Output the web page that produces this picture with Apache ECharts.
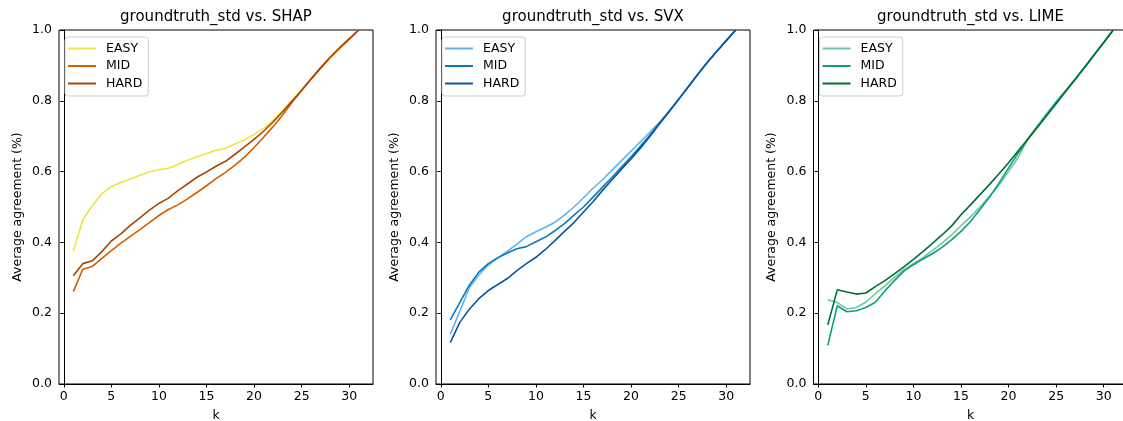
<!DOCTYPE html>
<html>
<head>
<meta charset="utf-8">
<script src="https://cdn.jsdelivr.net/npm/echarts@6/dist/echarts.min.js"></script>
<style>
  html, body { margin: 0; padding: 0; background: #fff; }
  #chart { width: 1123px; height: 421px; }
</style>
</head>
<body>
<div id="chart"></div>
<script>
// k = 1..31
const K = [1,2,3,4,5,6,7,8,9,10,11,12,13,14,15,16,17,18,19,20,21,22,23,24,25,26,27,28,29,30,31];
const xTicks = [0, 5, 10, 15, 20, 25, 30];
const levels = ['EASY', 'MID', 'HARD'];
const methods = ['SHAP', 'SVX', 'LIME'];

// Average agreement per k, groundtruth_std vs. SHAP
const shapEasy = [0.375,0.464,0.504,0.537,0.558,0.569,0.579,0.590,0.599,0.606,0.609,0.621,0.632,0.642,0.651,0.660,0.666,0.678,0.690,0.705,0.722,0.745,0.772,0.802,0.831,0.860,0.891,0.920,0.946,0.972,1.0];
const shapMid  = [0.261,0.324,0.332,0.355,0.377,0.398,0.417,0.436,0.456,0.476,0.493,0.506,0.523,0.541,0.560,0.580,0.598,0.618,0.641,0.668,0.697,0.727,0.760,0.796,0.829,0.862,0.893,0.923,0.950,0.975,1.0];
const shapHard = [0.306,0.340,0.348,0.374,0.404,0.424,0.448,0.469,0.491,0.510,0.525,0.546,0.565,0.584,0.599,0.615,0.629,0.649,0.670,0.691,0.714,0.740,0.769,0.799,0.830,0.862,0.893,0.923,0.950,0.975,1.0];

// groundtruth_std vs. SVX
const svxEasy = [0.141,0.205,0.272,0.308,0.336,0.356,0.375,0.395,0.416,0.430,0.443,0.457,0.477,0.500,0.526,0.553,0.577,0.604,0.631,0.658,0.685,0.712,0.740,0.771,0.805,0.839,0.874,0.908,0.939,0.970,1.0];
const svxMid  = [0.181,0.230,0.279,0.316,0.340,0.357,0.370,0.382,0.388,0.402,0.415,0.433,0.453,0.477,0.500,0.528,0.556,0.584,0.613,0.642,0.672,0.704,0.737,0.770,0.804,0.839,0.874,0.908,0.939,0.970,1.0];
const svxHard = [0.117,0.174,0.211,0.241,0.264,0.281,0.298,0.320,0.340,0.358,0.380,0.405,0.431,0.456,0.486,0.515,0.547,0.577,0.607,0.636,0.667,0.700,0.735,0.769,0.804,0.839,0.874,0.908,0.939,0.970,1.0];

// groundtruth_std vs. LIME
const limeEasy = [0.238,0.230,0.212,0.216,0.231,0.255,0.277,0.301,0.323,0.340,0.357,0.377,0.398,0.421,0.447,0.472,0.500,0.530,0.562,0.600,0.640,0.692,0.728,0.764,0.798,0.830,0.862,0.895,0.930,0.965,1.0];
const limeMid  = [0.109,0.221,0.204,0.207,0.216,0.231,0.263,0.292,0.319,0.337,0.353,0.368,0.386,0.407,0.431,0.459,0.493,0.528,0.568,0.610,0.652,0.690,0.726,0.760,0.795,0.828,0.861,0.895,0.930,0.965,1.0];
const limeHard = [0.167,0.266,0.260,0.254,0.257,0.275,0.292,0.311,0.331,0.352,0.374,0.397,0.421,0.446,0.478,0.506,0.535,0.564,0.594,0.625,0.658,0.691,0.724,0.758,0.792,0.826,0.860,0.895,0.930,0.965,1.0];

const panelValues = [
  [shapEasy, shapMid, shapHard],
  [svxEasy, svxMid, svxHard],
  [limeEasy, limeMid, limeHard]
];
const panelColors = [
  ['#f0e442', '#d55e00', '#a3480a'],
  ['#62b2f0', '#0a7ac0', '#0a55a0'],
  ['#6cc7a2', '#0fa07a', '#00702f']
];

const FONT = 'DejaVu Sans';
const gridLefts = [59, 436, 813.5];
const gridTop = 30, gridW = 314, gridH = 354;

const grids = [], xAxes = [], yAxes = [], series = [], legends = [], texts = [];

methods.forEach((m, i) => {
  const left = gridLefts[i];
  grids.push({ left: left, top: gridTop, width: gridW, height: gridH,
    outerBoundsMode: 'none', containLabel: false,
    show: true, borderColor: '#000', borderWidth: 1, backgroundColor: '#fff' });
  xAxes.push({
    gridIndex: i, type: 'value', min: -0.5, max: 32.5,
    name: 'k', nameLocation: 'middle', nameGap: 25,
    nameTextStyle: { fontFamily: FONT, fontSize: 12.5, color: '#000' },
    axisLine: { show: true, lineStyle: { color: '#000', width: 1 } },
    axisTick: { show: true, length: 3.5, lineStyle: { color: '#000', width: 1 }, customValues: xTicks },
    axisLabel: { show: true, margin: 6, fontFamily: FONT, fontSize: 12.5, color: '#000', customValues: xTicks },
    splitLine: { show: false }
  });
  yAxes.push({
    gridIndex: i, type: 'value', min: 0, max: 1, interval: 0.2,
    name: 'Average agreement (%)', nameLocation: 'middle', nameGap: 35,
    nameTextStyle: { fontFamily: FONT, fontSize: 12.5, color: '#000' },
    axisLine: { show: true, lineStyle: { color: '#000', width: 1 } },
    axisTick: { show: true, length: 3.5, lineStyle: { color: '#000', width: 1 } },
    axisLabel: { margin: 7, fontFamily: FONT, fontSize: 12.5, color: '#000',
      formatter: v => v.toFixed(1) },
    splitLine: { show: false }
  });
  const names = [];
  levels.forEach((lv, j) => {
    const name = m + ' ' + lv;
    names.push(name);
    series.push({
      name: name, type: 'line', xAxisIndex: i, yAxisIndex: i,
      data: K.map((k, idx) => [k, panelValues[i][j][idx]]),
      symbol: 'none', smooth: false, clip: true,
      lineStyle: { color: panelColors[i][j], width: 1.6 },
      itemStyle: { color: panelColors[i][j] },
      z: 2 + j
    });
  });
  legends.push({
    data: names, left: left + 6, top: 37, orient: 'vertical',
    icon: 'rect', itemWidth: 28, itemHeight: 2, itemGap: 4.5,
    padding: [5, 6, 6, 3],
    borderColor: '#cccccc', borderWidth: 1, borderRadius: 3,
    backgroundColor: 'rgba(255,255,255,0.8)',
    selectedMode: false,
    formatter: n => n.split(' ')[1],
    textStyle: { fontFamily: FONT, fontSize: 12.5, color: '#000', lineHeight: 13, padding: [0, 0, 0, 5] }
  });
  texts.push({
    type: 'text', x: left + gridW / 2, y: 17,
    style: { text: 'groundtruth_std vs. ' + m, fontFamily: FONT, fontSize: 15, fill: '#000',
      textAlign: 'center', textVerticalAlign: 'middle' }
  });
});

const chart = echarts.init(document.getElementById('chart'), null, { renderer: 'canvas' });
chart.setOption({
  backgroundColor: '#fff',
  animation: false,
  grid: grids, xAxis: xAxes, yAxis: yAxes, series: series,
  legend: legends, graphic: texts
});
</script>
</body>
</html>
